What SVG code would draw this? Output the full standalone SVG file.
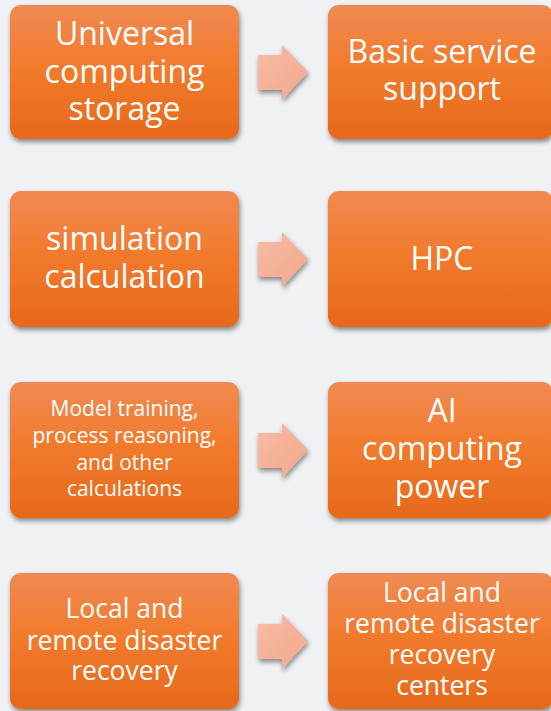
<svg xmlns="http://www.w3.org/2000/svg" xmlns:xlink="http://www.w3.org/1999/xlink" width="551" height="711" viewBox="0 0 551 711">
  <defs>
    <linearGradient id="boxFill" x1="0" y1="0" x2="0" y2="1">
      <stop offset="0" stop-color="#f08a52"/>
      <stop offset="0.45" stop-color="#f27b2d"/>
      <stop offset="1" stop-color="#e6691b"/>
    </linearGradient>
    <linearGradient id="arrowFill" x1="0" y1="0" x2="1" y2="1">
      <stop offset="0" stop-color="#f7bca4"/>
      <stop offset="1" stop-color="#f2a78b"/>
    </linearGradient>
    <filter id="shadow" x="-10%" y="-10%" width="125%" height="130%">
      <feGaussianBlur in="SourceAlpha" stdDeviation="2.5"/>
      <feOffset dx="1" dy="3" result="b"/>
      <feComponentTransfer><feFuncA type="linear" slope="0.45"/></feComponentTransfer>
      <feMerge><feMergeNode/><feMergeNode in="SourceGraphic"/></feMerge>
    </filter>
    <path id="arrow" d="M258,-17 H282 V-27 L308,0 L282,28 V18 H258 Z"/>
  </defs>
  <style>
    .box { fill: url(#boxFill); filter: url(#shadow); }
    .lbl { fill: #ffffff; font-family: "Open Sans", "Noto Sans", sans-serif; text-anchor: middle; }
    .big { font-size: 32px; }
    .mid { font-size: 26.5px; }
    .small { font-size: 21px; }
    .arr { fill: url(#arrowFill); filter: url(#shadow); }
  </style>
  <rect width="551" height="711" fill="#eff1f5"/>

  <g id="connectors">
    <use xlink:href="#arrow" class="arr" transform="translate(0,72)"/>
    <use xlink:href="#arrow" class="arr" transform="translate(0,259)"/>
    <use xlink:href="#arrow" class="arr" transform="translate(0,450)"/>
    <use xlink:href="#arrow" class="arr" transform="translate(0,641)"/>
  </g>

  <g id="universal-storage">
    <rect class="box" x="10" y="5" width="229" height="134" rx="11"/>
    <text class="lbl big"><tspan x="124.5" y="45">Universal</tspan><tspan x="124.5" y="82.5">computing</tspan><tspan x="124.5" y="120">storage</tspan></text>
  </g>
  <g id="basic-service">
    <rect class="box" x="328" y="5" width="225" height="134" rx="11"/>
    <text class="lbl big"><tspan x="442" y="63">Basic service</tspan><tspan x="442" y="100">support</tspan></text>
  </g>

  <g id="simulation">
    <rect class="box" x="10" y="191" width="229" height="136" rx="11"/>
    <text class="lbl big"><tspan x="124.5" y="250">simulation</tspan><tspan x="124.5" y="288">calculation</tspan></text>
  </g>
  <g id="hpc">
    <rect class="box" x="328" y="191" width="225" height="136" rx="11"/>
    <text class="lbl big" x="442" y="270">HPC</text>
  </g>

  <g id="model-training">
    <rect class="box" x="10" y="382" width="229" height="136" rx="11"/>
    <text class="lbl small"><tspan x="124.5" y="416">Model training,</tspan><tspan x="124.5" y="443">process reasoning,</tspan><tspan x="124.5" y="469.5">and other</tspan><tspan x="124.5" y="495.5">calculations</tspan></text>
  </g>
  <g id="ai-computing">
    <rect class="box" x="328" y="382" width="225" height="136" rx="11"/>
    <text class="lbl big"><tspan x="442" y="422">AI</tspan><tspan x="442" y="460">computing</tspan><tspan x="442" y="498">power</tspan></text>
  </g>

  <g id="disaster-recovery">
    <rect class="box" x="10" y="573" width="229" height="136" rx="11"/>
    <text class="lbl mid"><tspan x="124.5" y="618">Local and</tspan><tspan x="124.5" y="649.5">remote disaster</tspan><tspan x="124.5" y="680">recovery</tspan></text>
  </g>
  <g id="recovery-centers">
    <rect class="box" x="328" y="573" width="225" height="136" rx="11"/>
    <text class="lbl mid"><tspan x="442" y="602">Local and</tspan><tspan x="442" y="633">remote disaster</tspan><tspan x="442" y="664">recovery</tspan><tspan x="442" y="695">centers</tspan></text>
  </g>
</svg>
